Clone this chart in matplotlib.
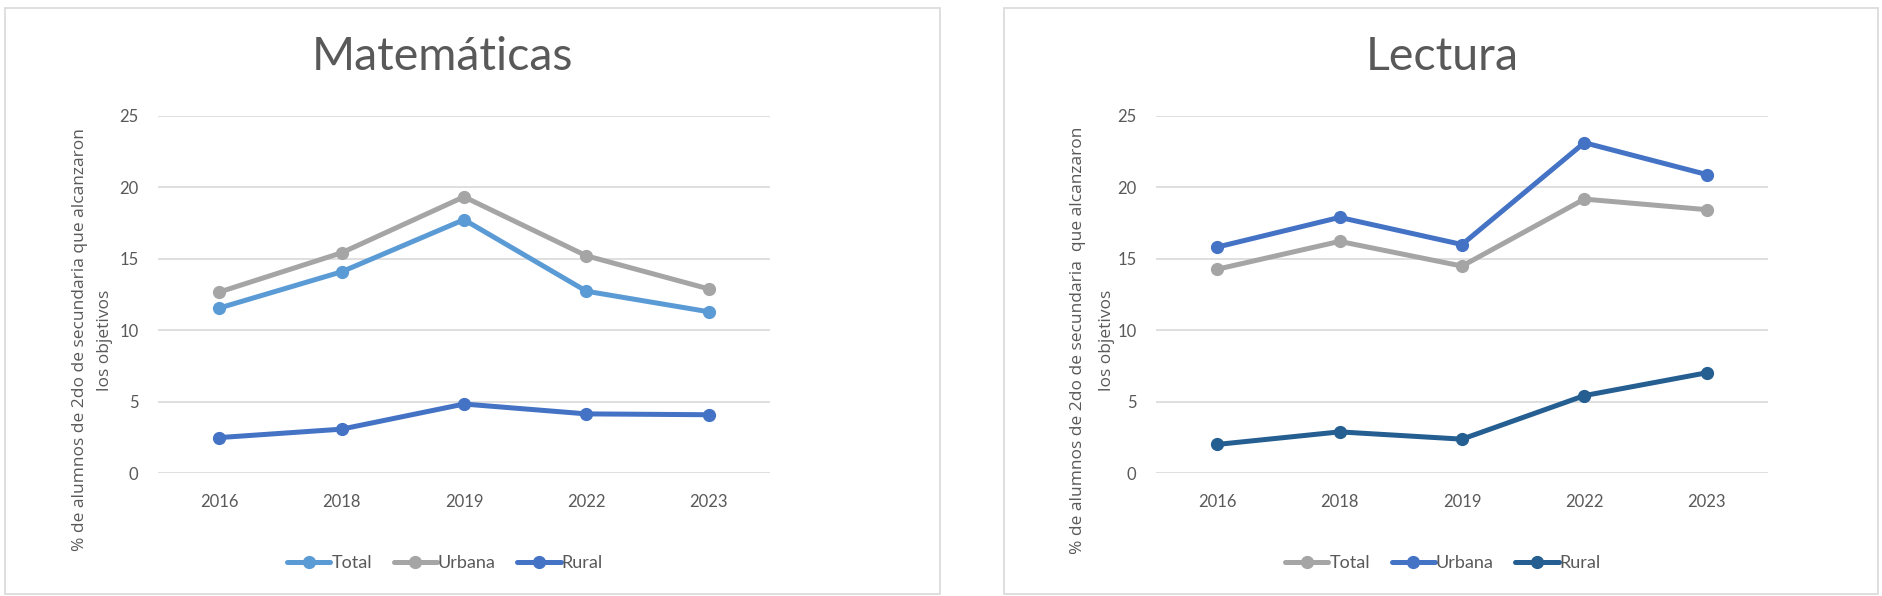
import matplotlib
matplotlib.use("Agg")
import matplotlib.pyplot as plt
from matplotlib.patches import Rectangle

years = ["2016", "2018", "2019", "2022", "2023"]
series_names = ["Total", "Urbana", "Rural"]

mat_total = [11.55, 14.09, 17.74, 12.73, 11.29]
mat_urbana = [12.67, 15.42, 19.34, 15.21, 12.89]
mat_rural = [2.48, 3.07, 4.83, 4.14, 4.08]

lec_total = [14.27, 16.22, 14.49, 19.18, 18.44]
lec_urbana = [15.82, 17.90, 16.00, 23.13, 20.90]
lec_rural = [2.00, 2.88, 2.37, 5.42, 7.02]

mat_colors = ["#5B9BD5", "#A5A5A5", "#4472C4"]
lec_colors = ["#A5A5A5", "#4472C4", "#255E91"]

W, H = 1882, 596
fig = plt.figure(figsize=(W / 100, H / 100), dpi=100)
fig.patch.set_facecolor("white")

TXT = "#595959"
FONT = ["Lato", "DejaVu Sans"]
LBLFONT = ["Open Sans", "DejaVu Sans"]

def fx(px):
    return px / W

def fy(py):
    return 1 - py / H

panels = [
    dict(border=(5, 8, 940, 594), ax_left=158, title="Matemáticas", title_x=443,
         ylabel=["% de alumnos de 2do de secundaria que alcanzaron", "los objetivos"],
         ylab_x=[80, 105],
         data=[mat_total, mat_urbana, mat_rural], colors=mat_colors, leg_x=445),
    dict(border=(1004, 8, 1878, 594), ax_left=1156, title="Lectura", title_x=1442,
         ylabel=["% de alumnos de 2do de secundaria  que alcanzaron", "los objetivos"],
         ylab_x=[1078, 1107],
         data=[lec_total, lec_urbana, lec_rural], colors=lec_colors, leg_x=1443),
]

for p in panels:
    x0, y0, x1, y1 = p["border"]
    fig.patches.append(Rectangle((fx(x0), fy(y1)), fx(x1 - x0), (y1 - y0) / H,
                                 transform=fig.transFigure, fill=False,
                                 edgecolor="#D9D9D9", linewidth=1.2))
    ax = fig.add_axes([fx(p["ax_left"]), fy(473), 612 / W, 357 / H])
    xs = list(range(len(years)))
    handles = []
    for vals, col, name in zip(p["data"], p["colors"], series_names):
        h, = ax.plot(xs, vals, color=col, linewidth=3.6, marker="o", markersize=8.5,
                     label=name, solid_capstyle="round")
        handles.append(h)
    ax.set_xlim(-0.5, len(years) - 0.5)
    ax.set_ylim(0, 25)
    ax.set_yticks([0, 5, 10, 15, 20, 25])
    ax.set_xticks(xs)
    ax.set_xticklabels(years)
    ax.grid(axis="y", color="#D9D9D9", linewidth=1.2)
    ax.set_axisbelow(True)
    for s in ax.spines.values():
        s.set_visible(False)
    ax.tick_params(axis="both", length=0, labelsize=12, labelcolor=TXT)
    ax.tick_params(axis="y", pad=14)
    ax.tick_params(axis="x", pad=15)
    for lbl in ax.get_xticklabels() + ax.get_yticklabels():
        lbl.set_family(FONT)
    fig.text(fx(p["title_x"]), fy(57), p["title"], ha="center", va="center",
             fontsize=33.5, color=TXT, family=FONT)
    for line, lx in zip(p["ylabel"], p["ylab_x"]):
        fig.text(fx(lx), fy(340), line, rotation=90, ha="center",
                 va="center", fontsize=12.5, color=TXT, family=LBLFONT)
    fig.legend(handles=handles, loc="center", bbox_to_anchor=(fx(p["leg_x"]), fy(563)),
               ncol=3, frameon=False, handlelength=2.4,
               handletextpad=0.05, columnspacing=1.2, labelcolor=TXT,
               prop={"family": FONT, "size": 13})

fig.savefig("out.png", dpi=100, facecolor="white")
